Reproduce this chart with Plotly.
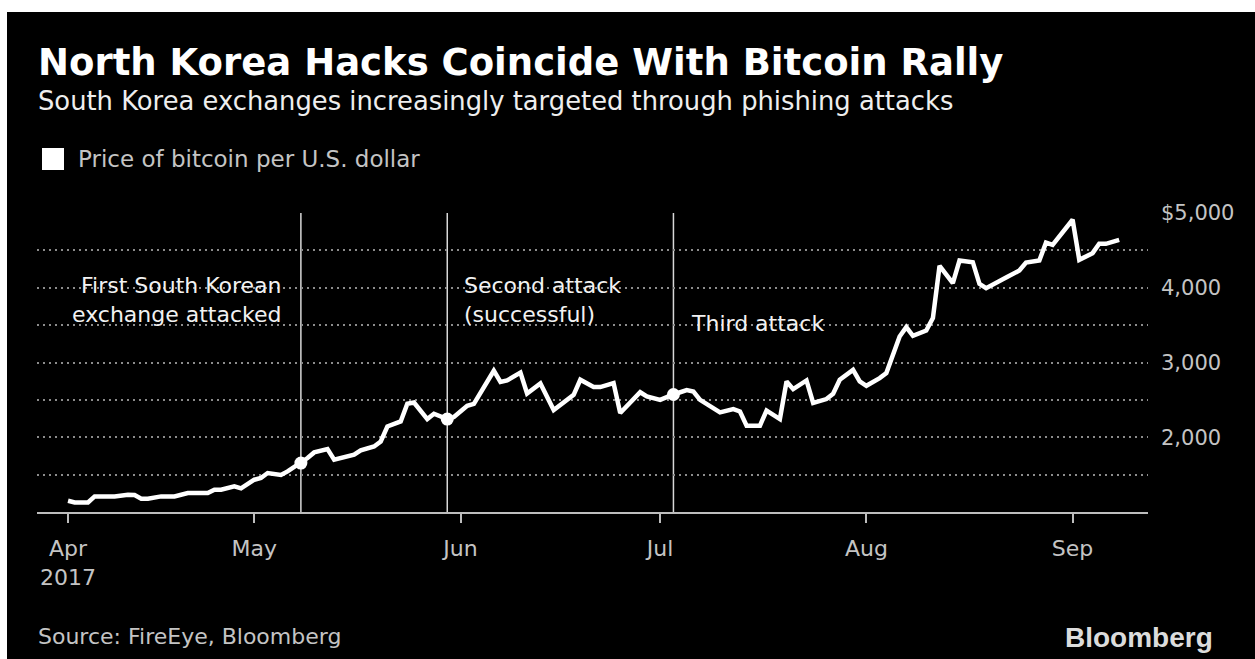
import plotly.graph_objects as go

# Bitcoin price, USD
dates = [
    "2017-04-03", "2017-04-04", "2017-04-06", "2017-04-07", "2017-04-08", "2017-04-10",
    "2017-04-12", "2017-04-13", "2017-04-14", "2017-04-15", "2017-04-17", "2017-04-19",
    "2017-04-21", "2017-04-22", "2017-04-24", "2017-04-25", "2017-04-26", "2017-04-28",
    "2017-04-29", "2017-05-01", "2017-05-02", "2017-05-03", "2017-05-05", "2017-05-06",
    "2017-05-08", "2017-05-09", "2017-05-10", "2017-05-12", "2017-05-13", "2017-05-14",
    "2017-05-16", "2017-05-17", "2017-05-19", "2017-05-20", "2017-05-21", "2017-05-23",
    "2017-05-24", "2017-05-25", "2017-05-27", "2017-05-28", "2017-05-30", "2017-05-31",
    "2017-06-02", "2017-06-03", "2017-06-06", "2017-06-07", "2017-06-08", "2017-06-10",
    "2017-06-11", "2017-06-13", "2017-06-15", "2017-06-18", "2017-06-19", "2017-06-21",
    "2017-06-22", "2017-06-24", "2017-06-25", "2017-06-28", "2017-06-29", "2017-07-01",
    "2017-07-02", "2017-07-03", "2017-07-05", "2017-07-06", "2017-07-07", "2017-07-09",
    "2017-07-10", "2017-07-12", "2017-07-13", "2017-07-14", "2017-07-16", "2017-07-17",
    "2017-07-19", "2017-07-20", "2017-07-21", "2017-07-23", "2017-07-24", "2017-07-26",
    "2017-07-27", "2017-07-28", "2017-07-30", "2017-07-31", "2017-08-01", "2017-08-03",
    "2017-08-04", "2017-08-06", "2017-08-07", "2017-08-08", "2017-08-10", "2017-08-11",
    "2017-08-12", "2017-08-14", "2017-08-15", "2017-08-17", "2017-08-18", "2017-08-19",
    "2017-08-21", "2017-08-22", "2017-08-24", "2017-08-25", "2017-08-27", "2017-08-28",
    "2017-08-29", "2017-09-01", "2017-09-02", "2017-09-04", "2017-09-05", "2017-09-06",
    "2017-09-08",
]
prices = [
    1151, 1128, 1128, 1209, 1209, 1209,
    1231, 1227, 1178, 1178, 1209, 1209,
    1254, 1254, 1254, 1298, 1298, 1342,
    1316, 1432, 1455, 1521, 1495, 1543,
    1655, 1722, 1797, 1842, 1699, 1722,
    1766, 1824, 1877, 1944, 2144, 2211,
    2448, 2465, 2243, 2314, 2243, 2270,
    2421, 2446, 2890, 2740, 2760, 2865,
    2585, 2720, 2363, 2568, 2769, 2671,
    2671, 2725, 2324, 2602, 2545, 2500,
    2537, 2572, 2630, 2612, 2501, 2390,
    2332, 2377, 2345, 2154, 2154, 2358,
    2243, 2746, 2644, 2760, 2460, 2511,
    2582, 2769, 2902, 2746, 2688, 2791,
    2858, 3348, 3473, 3357, 3428, 3594,
    4293, 4061, 4364, 4342, 4052, 3995,
    4096, 4136, 4230, 4337, 4364, 4604,
    4573, 4910, 4374, 4463, 4588, 4588,
    4640,
]

# Hacking incidents
attack_dates = ["2017-05-08", "2017-05-30", "2017-07-03"]
attack_labels = [
    "First South Korean<br>exchange attacked",
    "Second attack<br>(successful)",
    "Third attack",
]

# Axis ticks
y_gridvals = [1500, 2000, 2500, 3000, 3500, 4000, 4500, 5000]
y_ticktext = ["", "2,000", "", "3,000", "", "4,000", "", "$5,000"]
x_tickvals = ["2017-04-03", "2017-05-01", "2017-06-01", "2017-07-01", "2017-08-01", "2017-09-01"]
x_ticktext = ["Apr<br>2017", "May", "Jun", "Jul", "Aug", "Sep"]

title_text = "North Korea Hacks Coincide With Bitcoin Rally"
subtitle_text = "South Korea exchanges increasingly targeted through phishing attacks"
legend_text = "Price of bitcoin per U.S. dollar"
source_text = "Source: FireEye, Bloomberg"
brand_text = "Bloomberg"

W, H = 1255, 659
L, R, T, B = 37, 1148, 213, 512  # plot area in pixels
FONT = "DejaVu Sans"


def px(x):
    return (x - L) / (R - L)


def py(y):
    return (B - y) / (B - T)


attack_prices = [prices[dates.index(d)] for d in attack_dates]

fig = go.Figure()

fig.add_trace(go.Scatter(
    x=dates, y=prices, mode="lines",
    line=dict(color="#ffffff", width=4.5),
    hoverinfo="skip", showlegend=False,
))
fig.add_trace(go.Scatter(
    x=attack_dates, y=attack_prices, mode="markers",
    marker=dict(color="#ffffff", size=13),
    hoverinfo="skip", showlegend=False,
))

shapes = []
for d in attack_dates:
    shapes.append(dict(
        type="line", xref="x", yref="y", x0=d, x1=d, y0=1000, y1=5000,
        line=dict(color="#d8d8d8", width=1.5), layer="below",
    ))

# white page border around the black panel
shapes.append(dict(type="rect", xref="paper", yref="paper",
                   x0=px(0), x1=px(W), y0=py(12), y1=py(0),
                   fillcolor="#ffffff", line=dict(width=0), layer="above"))
shapes.append(dict(type="rect", xref="paper", yref="paper",
                   x0=px(0), x1=px(7), y0=py(H), y1=py(0),
                   fillcolor="#ffffff", line=dict(width=0), layer="above"))
# legend swatch
shapes.append(dict(type="rect", xref="paper", yref="paper",
                   x0=px(42), x1=px(64), y0=py(170), y1=py(148),
                   fillcolor="#ffffff", line=dict(width=0), layer="above"))

annotations = [
    dict(text=f"<b>{title_text}</b>", x=px(36), y=py(63), xref="paper", yref="paper",
         xanchor="left", yanchor="middle", showarrow=False,
         font=dict(family=FONT, size=37, color="#ffffff")),
    dict(text=subtitle_text, x=px(36), y=py(101), xref="paper", yref="paper",
         xanchor="left", yanchor="middle", showarrow=False,
         font=dict(family=FONT, size=25.8, color="#eeeeee")),
    dict(text=legend_text, x=px(76), y=py(159), xref="paper", yref="paper",
         xanchor="left", yanchor="middle", showarrow=False,
         font=dict(family=FONT, size=23, color="#c4c4c4")),
    dict(text=source_text, x=px(36), y=py(636), xref="paper", yref="paper",
         xanchor="left", yanchor="middle", showarrow=False,
         font=dict(family=FONT, size=22, color="#c4c4c4")),
    dict(text=f"<b>{brand_text}</b>", x=px(1215), y=py(637), xref="paper", yref="paper",
         xanchor="right", yanchor="middle", showarrow=False,
         font=dict(family="Liberation Sans", size=28, color="#dcdcdc")),
]

label_cfg = [
    dict(xanchor="right", align="right", xshift=-17, y=py(300)),
    dict(xanchor="left", align="left", xshift=15, y=py(300)),
    dict(xanchor="left", align="left", xshift=16, y=py(323)),
]
for d, lab, cfg in zip(attack_dates, attack_labels, label_cfg):
    annotations.append(dict(
        text=lab, x=d, xref="x", y=cfg["y"], yref="paper",
        xanchor=cfg["xanchor"], yanchor="middle", align=cfg["align"],
        xshift=cfg["xshift"], showarrow=False,
        font=dict(family=FONT, size=22, color="#f2f2f2"),
    ))

fig.update_layout(
    width=W, height=H,
    margin=dict(l=L, r=W - R, t=T, b=H - B, pad=0),
    paper_bgcolor="#000000", plot_bgcolor="#000000",
    shapes=shapes, annotations=annotations,
    showlegend=False,
    xaxis=dict(
        type="date",
        range=["2017-03-29 08:00", "2017-09-12 08:00"],
        tickvals=x_tickvals, ticktext=x_ticktext,
        showgrid=False, zeroline=False,
        showline=True, linecolor="#bdbdbd", linewidth=2,
        ticks="outside", ticklen=9, tickwidth=2, tickcolor="#bdbdbd",
        ticklabelstandoff=7,
        tickfont=dict(family=FONT, size=22, color="#c4c4c4"),
        fixedrange=True,
    ),
    yaxis=dict(
        side="right",
        range=[1000, 5000],
        tickvals=y_gridvals, ticktext=y_ticktext,
        showgrid=True, gridcolor="#8c8c8c", gridwidth=2, griddash="2px,4px",
        zeroline=False, showline=False, ticks="",
        ticklabelstandoff=12,
        tickfont=dict(family=FONT, size=21, color="#c4c4c4"),
        fixedrange=True,
    ),
)

fig.write_html("out.html")
